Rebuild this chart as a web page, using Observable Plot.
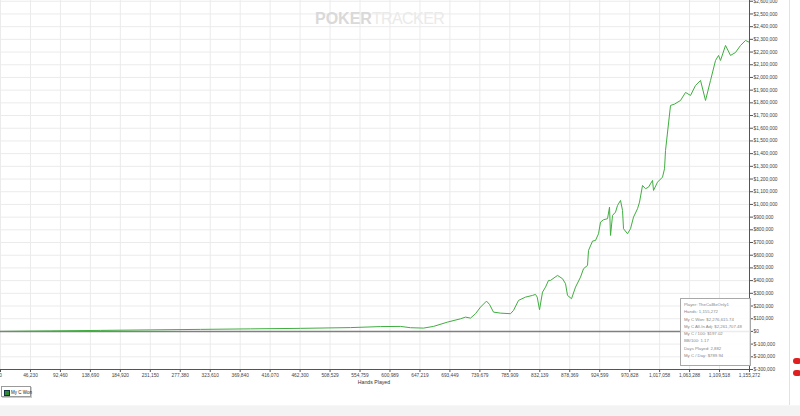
<!DOCTYPE html>
<html>
<head>
<meta charset="utf-8">
<script src="https://cdn.jsdelivr.net/npm/d3@7"></script>
<script src="https://cdn.jsdelivr.net/npm/@observablehq/plot@0.6"></script>
<style>
  html, body { margin: 0; padding: 0; background: #fff; }
  #wrap { position: relative; width: 800px; height: 416px; overflow: hidden; font-family: "Liberation Sans", Arial, sans-serif; }
  #chart { position: absolute; left: 0; top: 0; }
  .abs { position: absolute; white-space: nowrap; }
</style>
</head>
<body>
<div id="wrap">
  <div id="chart"></div>
</div>
<script>
// ---- data ----
const hands = [0, 77155, 154310, 231465, 308620, 385775, 462930, 540085, 586378, 617240,
  632671, 652731, 668162, 689766, 709826, 717542, 725257, 732973, 740688, 749947,
  754576, 760748, 771550, 786981, 791610, 799326, 810128, 820929, 825559, 828180,
  831731, 836360, 840990, 845619, 848705, 859507, 867222, 871852, 874938, 881110,
  887283, 894998, 899627, 905800, 907343, 913515, 918145, 922774, 925860, 930489,
  936662, 939748, 941291, 944377, 949007, 952093, 956722, 959808, 961351, 967524,
  972153, 976782, 982955, 986041, 990670, 995300, 999929, 1006101, 1007644, 1013817,
  1021532, 1024618, 1026162, 1033877, 1040000, 1049308, 1057024, 1064739, 1072455, 1080170,
  1087886, 1095601, 1103317, 1107946, 1111032, 1118748, 1126463, 1134179, 1141894, 1149610, 1155748];
const myCWon = [0, 4000, 8000, 12000, 16000, 20000, 24000, 30000, 38000, 39370,
  29134, 25984, 39370, 73228, 99212, 112598, 104724, 139370, 191338, 238582,
  212598, 151968, 144094, 139370, 165354, 244094, 270078, 283464, 291338, 270078,
  170866, 309448, 348818, 401574, 401574, 440944, 414960, 375590, 283464, 257480,
  348818, 427558, 493698, 519684, 637794, 711028, 716534, 769292, 860632, 879530,
  887404, 978738, 755904, 913384, 939368, 992124, 1031494, 952754, 808660, 769292,
  808660, 900000, 966138, 1018108, 1149604, 1123620, 1136218, 1188974, 1110234, 1175588,
  1214958, 1281098, 1425194, 1779524, 1790000, 1818894, 1881886, 1858264, 1937004, 1976374,
  1818894, 1976374, 2133854, 2173224, 2133854, 2251964, 2173224, 2196846, 2251964, 2291334, 2276616];

const xTicks = [0, 46230, 92460, 138690, 184920, 231150, 277380, 323610, 369840, 416070,
  462300, 508529, 554759, 600989, 647219, 693449, 739679, 785909, 832139, 878369,
  924599, 970828, 1017058, 1063288, 1109518, 1155748];
const xTickLabels = ["0", "46,230", "92,460", "138,690", "184,920", "231,150", "277,380", "323,610",
  "369,840", "416,070", "462,300", "508,529", "554,759", "600,989", "647,219", "693,449", "739,679",
  "785,909", "832,139", "878,369", "924,599", "970,828", "1,017,058", "1,063,288", "1,109,518", "1,155,272"];
const yTicks = [-300000, -200000, -100000, 0, 100000, 200000, 300000, 400000, 500000, 600000,
  700000, 800000, 900000, 1000000, 1100000, 1200000, 1300000, 1400000, 1500000, 1600000,
  1700000, 1800000, 1900000, 2000000, 2100000, 2200000, 2300000, 2400000, 2500000, 2600000];

const legendLabel = "My C Won";
const xLabel = "Hands Played";
const infoLines = [
  "Player: TheCalBeOnly1",
  "Hands: 1,155,272",
  "My C Won: $2,276,615.74",
  "My C All-In Adj: $2,261,707.48",
  "My C / 100: $197.02",
  "BB/100: 1.17",
  "Days Played: 2,882",
  "My C / Day: $789.94"
];

// ---- chart ----
const data = hands.map((h, i) => ({hands: h, won: myCWon[i]}));
const fmt = d3.format(",");
const yFmt = d => d < 0 ? "$-" + fmt(-d) : "$" + fmt(d);

const chart = Plot.plot({
  width: 800,
  height: 386,
  marginLeft: 0,
  marginRight: 51,
  marginTop: 0,
  marginBottom: 17,
  style: {fontFamily: "'Liberation Sans', Arial, sans-serif", fontSize: "4.8px", color: "#444", background: "transparent"},
  x: {domain: [0, 1155748]},
  y: {domain: [-300000, 2606000]},
  marks: [
    Plot.gridX(xTicks, {stroke: "#ebebeb", strokeOpacity: 1}),
    Plot.gridY(yTicks, {stroke: "#ebebeb", strokeOpacity: 1}),
    Plot.ruleY([0], {stroke: "#808080", strokeWidth: 1.5}),
    Plot.line(data, {x: "hands", y: "won", stroke: "#3fae3f", strokeWidth: 1}),
    Plot.axisX(xTicks, {tickSize: 3, tickPadding: 1, tickFormat: (d, i) => xTickLabels[i], label: null, stroke: "#555"}),
    Plot.axisY(yTicks, {anchor: "right", tickSize: 3, tickPadding: 1, tickFormat: yFmt, label: null, stroke: "#555"}),
    Plot.ruleY([-300000], {stroke: "#555"}),
    Plot.ruleX([1155748], {stroke: "#555"})
  ]
});
document.getElementById("chart").appendChild(chart);

const wrap = document.getElementById("wrap");
function add(html, css) {
  const el = document.createElement("div");
  el.className = "abs";
  el.innerHTML = html;
  Object.assign(el.style, css);
  wrap.appendChild(el);
  return el;
}

// watermark
add('<span style="font-weight:bold;color:#d9d9d9">POKER</span><span style="color:#eaeaea;letter-spacing:-0.6px">TRACKER</span>',
  {left: "315px", top: "10.5px", fontSize: "16px", lineHeight: "1", fontFamily: "'Liberation Sans', Arial, sans-serif"});

// x axis label
add(xLabel, {left: "374px", top: "379.5px", transform: "translateX(-50%)", fontSize: "5.2px", color: "#333", lineHeight: "1"});

// info box
add(infoLines.map(t => `<div>${t}</div>`).join(""), {
  left: "680px", top: "298px", width: "66px", height: "64px", border: "1px solid #a8a8a8",
  background: "rgba(255,255,255,0.85)", fontSize: "4.3px", lineHeight: "7.3px", color: "#888",
  padding: "2px 0 0 3px"
});

// legend
add(`<span style="display:inline-block;width:4px;height:4px;background:#2e8b2e;border:0.5px solid #134;margin-right:1px;vertical-align:middle"></span><span style="vertical-align:middle">${legendLabel}</span>`, {
  left: "1px", top: "386px", width: "30px", height: "11px", border: "1px solid #9a9a9a",
  boxShadow: "1px 1px 0 #ccc", fontSize: "4.5px", lineHeight: "11px", color: "#222", paddingLeft: "2px", boxSizing: "border-box"
});

// panel border and bottom band
add("", {left: "789px", top: "0px", width: "1px", height: "405px", background: "#e2e2e2"});
add("", {left: "0px", top: "405px", width: "800px", height: "11px", background: "#f3f3f3", borderTop: "1px solid #f7f7f7"});
add("", {left: "793px", top: "358px", width: "8px", height: "6px", background: "#e02020", borderRadius: "4px"});
add("", {left: "793px", top: "370px", width: "8px", height: "6px", background: "#e02020", borderRadius: "4px"});
</script>
</body>
</html>
